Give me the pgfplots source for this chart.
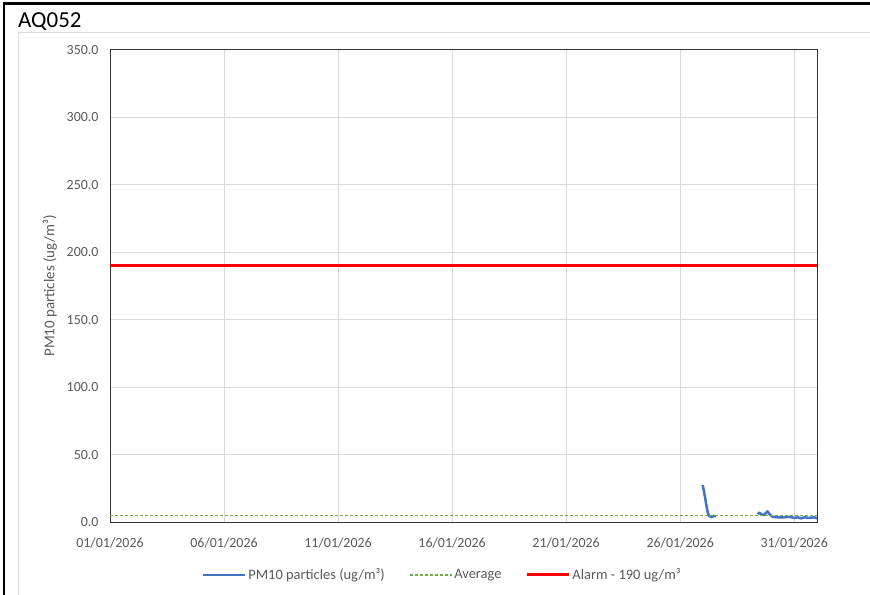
\documentclass[border=0pt]{standalone}
\usepackage{fontspec}
\setmainfont{Carlito}
\usepackage{pgfplots}
\pgfplotsset{compat=1.18}

\definecolor{pmblue}{HTML}{4472C4}
\definecolor{avggreen}{HTML}{70AD47}
\definecolor{alarmred}{HTML}{FF0000}
\definecolor{gridgray}{HTML}{D9D9D9}
\definecolor{textgray}{HTML}{595959}

\begin{document}
\begin{tikzpicture}
\useasboundingbox (0bp,0bp) rectangle (870bp,595bp);
% outer sheet frame and chart area border
\draw[line width=2.5bp] (4bp,0bp) -- (4bp,591.5bp) -- (870bp,591.5bp);
\draw[gridgray, line width=1bp] (18.5bp,0bp) -- (18.5bp,562.5bp) -- (870bp,562.5bp);
\node[anchor=base west, inner sep=0pt, font=\fontsize{23}{27}\selectfont] at (18bp,567bp) {AQ052};

\begin{axis}[
    at={(110bp,73bp)}, anchor=south west,
    scale only axis,
    width=707bp, height=472bp,
    xmin=0, xmax=31,
    ymin=0, ymax=350,
    xtick={0,5,10,15,20,25,30},
    xticklabels={01/01/2026,06/01/2026,11/01/2026,16/01/2026,21/01/2026,26/01/2026,31/01/2026},
    ytick={0,50,...,350},
    y tick label style={/pgf/number format/fixed, /pgf/number format/fixed zerofill,
        /pgf/number format/precision=1, xshift=-8bp},
    /pgf/number format/assume math mode=true,
    major tick length=0pt,
    grid=major,
    major grid style={draw=gridgray, line width=1bp},
    axis line style={draw=black!80, line width=1bp},
    tick label style={font=\fontsize{14}{16}\selectfont, text=textgray},
    x tick label style={yshift=-12bp},
    ylabel={PM10 particles (ug/m³)},
    ylabel style={at={(axis description cs:-0.085,0.5)}, anchor=center,
        font=\fontsize{15}{17}\selectfont, text=textgray},
    unbounded coords=jump,
    legend columns=3,
    legend style={draw=none, fill=none, at={(axis description cs:0.47,-0.112)}, anchor=center,
        font=\fontsize{14.5}{17}\selectfont, text=textgray,
        /tikz/every even column/.append style={column sep=22bp}},
    legend image code/.code={\draw[#1] (0bp,0bp) -- (42bp,0bp);},
]
\addplot[pmblue, line width=2.5bp, line join=round] coordinates {
    (25.99,27.4) (26.06,21.3) (26.16,11.4) (26.22,6.4) (26.28,4.4) (26.37,3.5)
    (26.45,4.4) (26.57,4.4)
    (27.5,nan)
    (28.40,5.9) (28.47,6.9) (28.59,5.4) (28.69,5.4) (28.83,7.9) (28.94,5.4)
    (29.05,3.9) (29.27,3.5) (29.57,3.5) (29.78,3.9) (30.00,3.0) (30.15,3.5)
    (30.30,2.7) (30.44,3.5) (30.66,3.0) (30.88,3.5) (31.00,2.7)
};
\addlegendentry{PM10 particles (ug/m³)}
\addplot[avggreen, line width=1.4bp, dash pattern=on 3bp off 2bp] coordinates {
    (0,4.8) (31,4.8)
};
\addlegendentry{Average}
\addplot[alarmred, line width=3bp] coordinates {
    (0,190) (31,190)
};
\addlegendentry{Alarm - 190 ug/m³}
\end{axis}
\end{tikzpicture}
\end{document}
